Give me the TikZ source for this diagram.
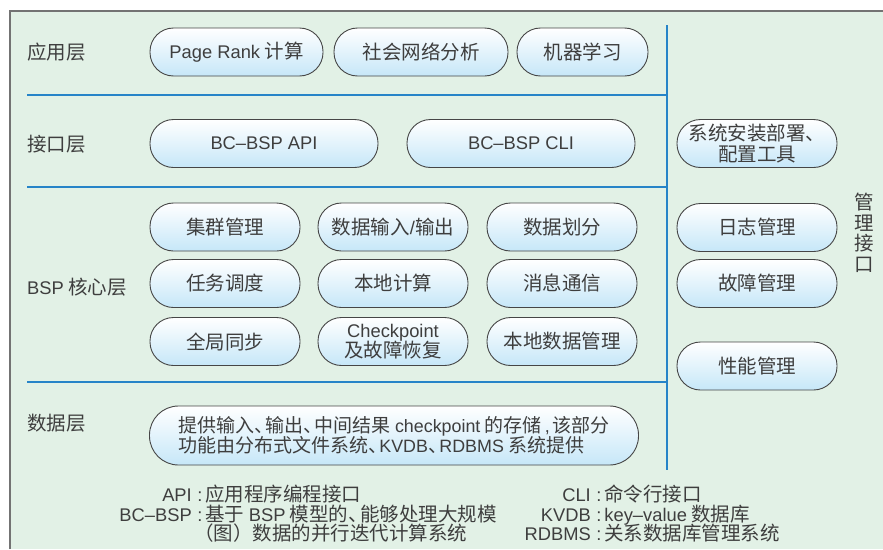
\documentclass[tikz,border=0pt]{standalone}
\usepackage{fontspec}
\setmainfont{Noto Sans CJK SC}
\newfontfamily\lat{Liberation Sans}[Scale=0.94]
\newcommand\mydun{、\kern-0.4em}
\newcommand\mycomma{\,{\lat,}\,}
\definecolor{bgc}{RGB}{226,241,230}
\definecolor{sepblue}{RGB}{38,132,200}
\definecolor{framegray}{RGB}{115,115,115}
\definecolor{pillblue}{RGB}{198,231,248}
\definecolor{pillline}{RGB}{70,70,70}
\definecolor{txt}{RGB}{62,62,62}
\begin{document}
\begin{tikzpicture}[x=1pt,y=-1pt,
  every node/.style={font=\fontsize{19.5}{21}\selectfont, text=txt},
  pill/.style={draw=pillline, line width=0.9pt, rounded corners=23.5pt,
    top color=white, bottom color=pillblue, minimum height=48pt,
    inner sep=0pt, align=center},
  sepline/.style={draw=sepblue, line width=1.6pt},
  layer/.style={anchor=base west, inner sep=0pt},
  keyl/.style={anchor=base east, inner sep=0pt},
  keyr/.style={anchor=base west, inner sep=0pt}]
\useasboundingbox (0,0) rectangle (883,549);
% background and frame
\fill[bgc] (10,11) rectangle (883,549);
\draw[framegray, line width=1.2pt] (10,549) -- (10,11) -- (883,11);
% separators
\coordinate (s1a) at (27,95);  \coordinate (s1b) at (667,95);
\coordinate (s2a) at (27,187); \coordinate (s2b) at (667,187);
\coordinate (s3a) at (27,382); \coordinate (s3b) at (667,382);
\coordinate (vt) at (667,25);  \coordinate (vb) at (667,470);
\draw[sepline] (s1a) -- (s1b);
\draw[sepline] (s2a) -- (s2b);
\draw[sepline] (s3a) -- (s3b);
\draw[sepline] (vt) -- (vb);
% layer labels
\node[layer] (l1) at (27,59) {应用层};
\node[layer] (l2) at (27,151) {接口层};
\node[layer] (l3) at (27,294) {{\lat BSP} 核心层};
\node[layer] (l4) at (27,430) {数据层};
% application layer
\node[pill, minimum width=173pt] (pr) at (236.5,52) {{\lat Page Rank} 计算};
\node[pill, minimum width=174pt] (sn) at (421,52) {社会网络分析};
\node[pill, minimum width=131pt] (ml) at (582.5,52) {机器学习};
% interface layer
\node[pill, minimum width=228pt] (api) at (264,143.5) {\lat BC–BSP API};
\node[pill, minimum width=228pt] (cli) at (521,143.5) {\lat BC–BSP CLI};
% core layer
\node[pill, minimum width=150pt] (c11) at (225,227) {集群管理};
\node[pill, minimum width=150pt] (c12) at (393,227) {数据输入{\lat /}输出};
\node[pill, minimum width=150pt] (c13) at (562,227) {数据划分};
\node[pill, minimum width=150pt] (c21) at (225,283.5) {任务调度};
\node[pill, minimum width=150pt] (c22) at (393,283.5) {本地计算};
\node[pill, minimum width=150pt] (c23) at (562,283.5) {消息通信};
\node[pill, minimum width=150pt] (c31) at (225,341.5) {全局同步};
\node[pill, minimum width=150pt] (c32) at (393,341.5) {{\lat Checkpoint}\\[-1pt]及故障恢复};
\node[pill, minimum width=150pt] (c33) at (562,341.5) {本地数据管理};
% data layer
\node[pill, minimum width=489pt, minimum height=59pt, rounded corners=29pt, align=left,
  font=\fontsize{19}{20}\selectfont] (data) at (394,435.5)
  {提供输入\mydun 输出\mydun 中间结果 {\lat checkpoint} 的存储\mycomma 该部分\\功能由分布式文件系统\mydun{\lat KVDB}\mydun{\lat RDBMS} 系统提供};
% management column
\node[pill, minimum width=160pt] (m1) at (757,143.5) {系统安装部署、\\配置工具};
\node[pill, minimum width=160pt] (m2) at (757,227.5) {日志管理};
\node[pill, minimum width=160pt] (m3) at (757,283.5) {故障管理};
\node[pill, minimum width=160pt] (m4) at (757,366) {性能管理};
\node[align=center, inner sep=0pt, font=\fontsize{19.5}{20.5}\selectfont] (mg) at (864,233) {管\\理\\接\\口};
% footnotes
\node[keyl] (k1) at (192,501) {\lat API};
\node[keyr] (d1) at (192,501) {{\lat\ :\,}应用程序编程接口};
\node[keyl] (k2) at (192,521) {\lat BC–BSP};
\node[keyr] (d2) at (192,521) {{\lat\ :\,}基于 {\lat BSP} 模型的\mydun 能够处理大规模};
\node[keyr] (d2b) at (194,540) {（图）数据的并行迭代计算系统};
\node[keyl] (k3) at (591,501) {\lat CLI};
\node[keyr] (d3) at (591,501) {{\lat\ :\,}命令行接口};
\node[keyl] (k4) at (591,521) {\lat KVDB};
\node[keyr] (d4) at (591,521) {{\lat\ :\,key–value} 数据库};
\node[keyl] (k5) at (591,540) {\lat RDBMS};
\node[keyr] (d5) at (591,540) {{\lat\ :\,}关系数据库管理系统};
\end{tikzpicture}
\end{document}
